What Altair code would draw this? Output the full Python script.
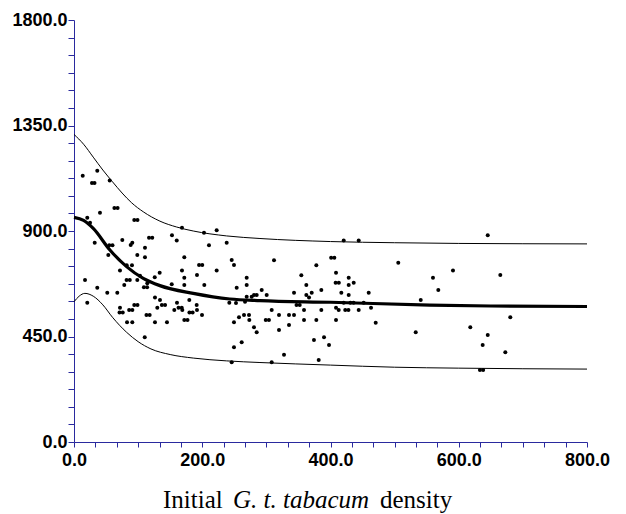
import altair as alt
import pandas as pd

# Scatter points (x = initial density, y = response)
pts_x = [13.6, 36.3, 28, 32, 55.7, 63, 68, 40.5, 94, 99, 20.7, 25, 32.3, 55, 60, 53.5, 75.3, 88.4, 90.9, 98.7,
         110.7, 110.7, 117, 122, 152.8, 160.2, 168.4, 202.7, 222.5, 210.5, 238.1, 172, 82.2, 90.4, 71.7, 82, 87,
         98.7, 102.9, 109, 114, 114.3, 125.9, 133.6, 152.4, 168.4, 172, 172, 191.8, 195, 200, 203.2, 222.5, 245.9,
         249.5, 269.3, 269.3, 253.7, 17.2, 36.3, 51.9, 67.5, 78.4, 20.7, 71.7, 71, 76, 82.7, 90.9, 86, 91, 94, 99,
         110.3, 113, 118, 126.3, 126.3, 129.9, 134.1, 137, 142, 145, 156.4, 160.6, 163, 168, 168.9, 172, 177, 179.8,
         180, 185, 191.3, 191.8, 199.6, 242.2, 252.6, 249.5, 257.3, 265.1, 272.9, 273.4, 280.7, 284.9, 249.5, 261.5,
         245.9, 269.3, 277.1, 280.7, 284.9, 266.7,
         292.7, 300.5, 311.9, 308.3, 299, 304, 319.7, 319.7, 335.3, 343.1, 335.3, 327.5, 308.3, 343.1, 347, 352,
         354.5, 362.3, 362.3, 366.5, 370.7, 358.7, 358.7, 377.9, 377.9, 374.2, 385.7, 385.7, 389.9, 397.7, 381.6,
         401, 406, 408.6, 408, 413, 408.6, 412.8, 408.6, 416.9, 420.6, 428.4, 428.4, 428.4, 436.2, 423, 428, 431,
         436, 444, 451.8, 459.6, 463.2, 470.5, 420.6, 444, 505.7, 540.7, 532.9,
         645.2, 591, 559.8, 664.8, 568.1, 680.4, 618, 645.2, 637.3, 672.6, 633, 638]
pts_y = [1136, 1157, 1105, 1105, 1115, 998, 998, 978, 947, 947, 957, 935, 850, 839, 839, 798, 862, 840, 850, 798,
         829, 788, 871, 871, 882, 860, 914, 893, 903, 839, 850, 788, 754, 754, 732, 691, 691,
         691, 709, 660, 660, 677, 703, 722, 673, 732, 701, 670, 712, 755, 755, 670, 732, 776,
         755, 701, 670, 658, 691, 658, 637, 637, 670, 594, 573, 552, 552, 511, 511, 563, 563, 584, 584,
         447, 542, 542, 616, 511, 573, 606, 584, 584, 511, 563, 594, 573, 573, 563, 520, 520, 606,
         552, 552, 584, 563, 542, 594, 593, 511, 532, 542, 542, 520, 489, 468, 404, 425,
         340, 620, 620, 627, 627, 598,
         648, 627, 775, 563, 520, 520, 542, 478, 542, 542, 499, 372, 340, 637, 584, 584,
         711, 670, 627, 616, 637, 563, 520, 754, 520, 435, 648, 563, 447, 414, 350,
         786, 786, 722, 679, 679, 573, 563, 520, 637, 594, 701, 670, 627, 679, 563, 563, 594,
         594, 563, 594, 637, 573, 509, 860, 860, 765, 606, 468,
         882, 732, 701, 712, 648, 532, 489, 456, 414, 383, 307, 307]

# Fitted curve (thick) and bounds (thin)
mid_x = [0, 15, 30, 56, 82, 108, 134, 186, 243, 290, 400, 555, 650, 800]
mid_y = [958, 945, 911, 819, 748, 698, 667, 634, 610, 603, 596, 584, 580, 578]
up_x = [0, 15, 30, 45, 60, 75, 90, 108, 134, 160, 186, 238, 290, 400, 500, 600, 800]
up_y = [1312, 1270, 1215, 1160, 1110, 1062, 1020, 982, 942, 917, 900, 879, 868, 855, 850, 847, 845]
lo_x = [0, 8, 17, 30, 45, 60, 82, 100, 120, 150, 186, 238, 290, 400, 500, 600, 800]
lo_y = [598, 622, 634, 622, 585, 532, 468, 428, 397, 373, 358, 346, 339, 328, 319, 315, 311]

title_parts = ["Initial", "G. t. tabacum", "density"]

x_ticks = [i * 800 / 24 for i in range(25)]
y_ticks = [i * 75 for i in range(25)]

AX = "#2a2a9e"
x_axis = alt.Axis(values=x_ticks, title=None, grid=False, domainColor=AX, tickColor=AX,
                  tickSize=5, labelPadding=4, labelFont="Liberation Sans", labelFontWeight="bold",
                  labelFontSize=18, labelColor="black", labelOverlap=False, labelFlush=False,
                  labelExpr="datum.value % 200 == 0 ? format(datum.value, '.1f') : ''")
y_axis = alt.Axis(values=y_ticks, title=None, grid=False, domainColor=AX, tickColor=AX,
                  tickSize=6, labelPadding=1, labelFont="Liberation Sans", labelFontWeight="bold",
                  labelFontSize=18, labelColor="black", labelOverlap=False, labelFlush=False,
                  labelExpr="datum.value % 450 == 0 ? format(datum.value, '.1f') : ''")
xs = alt.Scale(domain=[0, 800], nice=False, zero=False)
ys = alt.Scale(domain=[0, 1800], nice=False, zero=False)


def enc(ch):
    return ch.encode(x=alt.X("x:Q", scale=xs, axis=x_axis),
                     y=alt.Y("y:Q", scale=ys, axis=y_axis))


pts = enc(alt.Chart(pd.DataFrame({"x": pts_x, "y": pts_y})).mark_circle(size=16, color="black", opacity=1))
mid = enc(alt.Chart(pd.DataFrame({"x": mid_x, "y": mid_y})).mark_line(color="black", strokeWidth=3.2,
                                                                     interpolate="monotone"))
up = enc(alt.Chart(pd.DataFrame({"x": up_x, "y": up_y})).mark_line(color="black", strokeWidth=1,
                                                                  interpolate="monotone"))
lo = enc(alt.Chart(pd.DataFrame({"x": lo_x, "y": lo_y})).mark_line(color="black", strokeWidth=1,
                                                                  interpolate="monotone"))


def title_text(txt, xpos, italic):
    return alt.Chart(pd.DataFrame({"t": [txt]})).mark_text(
        font="Liberation Serif", fontSize=25, fontStyle="italic" if italic else "normal",
        align="left", baseline="alphabetic", color="black"
    ).encode(text="t:N", x=alt.value(xpos), y=alt.value(488))


t1 = title_text(title_parts[0], 89, False)
t2 = title_text(title_parts[1], 159, True)
t3 = title_text(title_parts[2], 306, False)

chart = alt.layer(up, lo, mid, pts, t1, t2, t3).properties(
    width=513, height=422,
    autosize=alt.AutoSizeParams(type="none"),
    padding={"left": 66, "top": 12, "right": 30, "bottom": 74},
).configure_view(stroke=None)

chart.save("out.html", embed_options={"renderer": "svg", "actions": False})
